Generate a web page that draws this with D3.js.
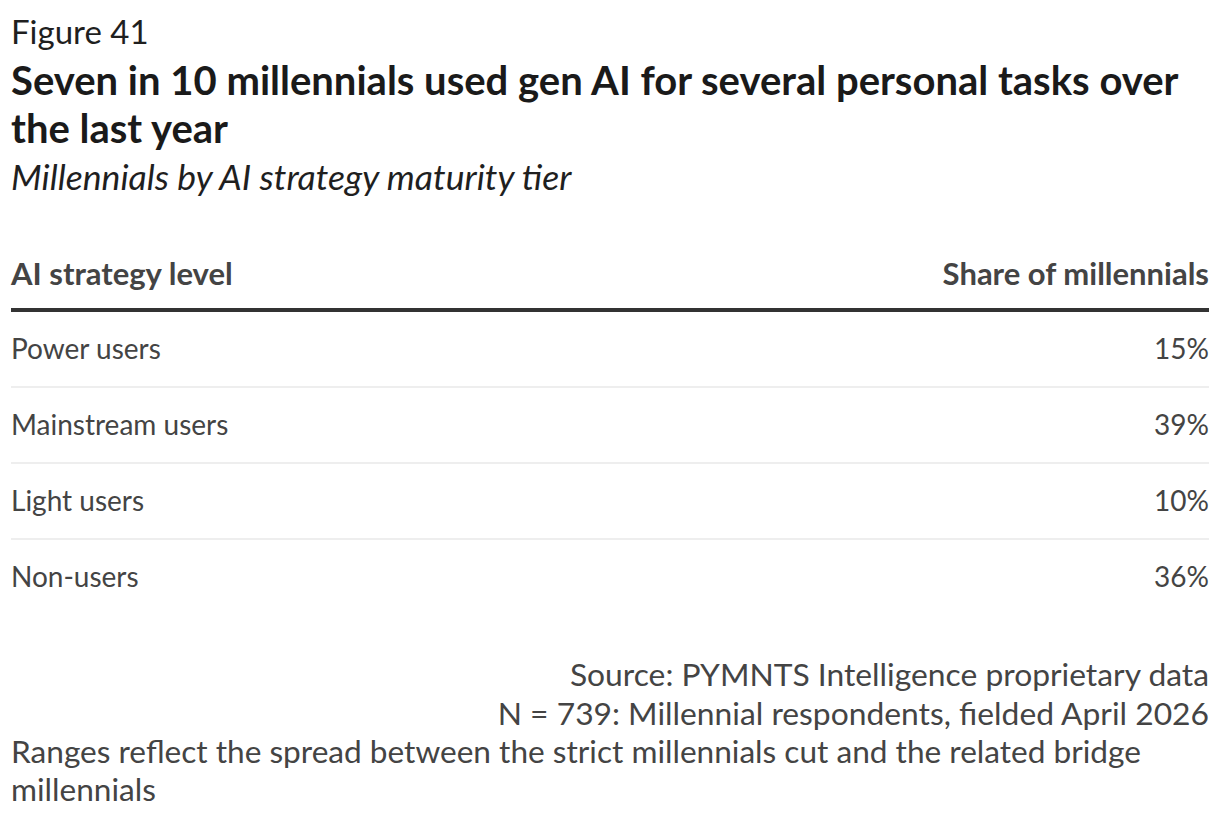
<!DOCTYPE html>
<html>
<head>
<meta charset="utf-8">
<script src="https://cdn.jsdelivr.net/npm/d3@7"></script>
<style>
  body { margin: 0; background: #fff; }
  svg { display: block; font-family: Lato, "Open Sans", sans-serif; }
</style>
</head>
<body>
<svg id="chart"></svg>
<script>
// data
const figureLabel = 'Figure 41';
const title = 'Seven in 10 millennials used gen AI for several personal tasks over the last year';
const subtitle = 'Millennials by AI strategy maturity tier';
const columns = ['AI strategy level', 'Share of millennials'];
const levels = ['Power users', 'Mainstream users', 'Light users', 'Non-users'];
const shares = [15, 39, 10, 36];
const sourceLines = ['Source: PYMNTS Intelligence proprietary data', 'N = 739: Millennial respondents, fielded April 2026'];
const note = 'Ranges reflect the spread between the strict millennials cut and the related bridge millennials';

var width = 1220;
var height = 820;
var margin = { left: 11, right: 11 };

var svg = d3.select('#chart')
  .attr('width', width)
  .attr('height', height)
  .attr('viewBox', [0, 0, width, height]);

// wrap text into lines that fit maxWidth
function wrap(textSel, str, maxWidth, lineHeight) {
  var words = str.split(' ');
  var line = [];
  var tspan = textSel.append('tspan').attr('x', textSel.attr('x')).attr('dy', 0);
  words.forEach(function(w) {
    line.push(w);
    tspan.text(line.join(' '));
    if (tspan.node().getComputedTextLength() > maxWidth && line.length > 1) {
      line.pop();
      tspan.text(line.join(' '));
      line = [w];
      tspan = textSel.append('tspan').attr('x', textSel.attr('x')).attr('dy', lineHeight).text(w);
    }
  });
}

var innerW = width - margin.left - margin.right;

///////////////////////////////////////////////////////////////
// header texts
svg.append('text')
  .attr('x', margin.left).attr('y', 44)
  .style('font-size', '33px').attr('fill', '#1f1f1f')
  .text(figureLabel);

svg.append('text')
  .attr('x', margin.left).attr('y', 95)
  .style('font-size', '40px').style('font-weight', 'bold').attr('fill', '#1a1a1a')
  .call(function(t) { wrap(t, title, 1180, 48); });

svg.append('text')
  .attr('x', margin.left).attr('y', 190)
  .style('font-size', '35.6px').style('font-style', 'italic').attr('fill', '#1f1f1f')
  .text(subtitle);

///////////////////////////////////////////////////////////////
// table
var x = d3.scaleLinear().domain([0, 1]).range([margin.left, width - margin.right]);

var y = d3.scaleBand()
  .domain(levels)
  .range([311, 311 + 76 * levels.length]);

svg.append('text')
  .attr('x', x(0)).attr('y', 285)
  .style('font-size', '31px').style('font-weight', 'bold').attr('fill', '#444')
  .text(columns[0]);

svg.append('text')
  .attr('x', x(1)).attr('y', 285)
  .attr('text-anchor', 'end')
  .style('font-size', '31px').style('font-weight', 'bold').attr('fill', '#444')
  .text(columns[1]);

svg.append('line')
  .attr('x1', x(0)).attr('x2', x(1))
  .attr('y1', 310).attr('y2', 310)
  .attr('stroke', '#333').attr('stroke-width', 4);

var rows = svg.selectAll('g.row')
  .data(levels.map((d, i) => ({ level: d, share: shares[i] })))
  .join('g')
    .attr('class', 'row')
    .attr('transform', d => 'translate(0,' + y(d.level) + ')');

rows.append('text')
  .attr('x', x(0)).attr('y', 48)
  .style('font-size', '28px').attr('fill', '#444')
  .text(d => d.level);

rows.append('text')
  .attr('x', x(1)).attr('y', 48)
  .attr('text-anchor', 'end')
  .style('font-size', '28px').attr('fill', '#444')
  .text(d => d.share + '%');

rows.filter((d, i) => i < levels.length - 1)
  .append('line')
  .attr('x1', x(0)).attr('x2', x(1))
  .attr('y1', y.bandwidth()).attr('y2', y.bandwidth())
  .attr('stroke', '#e8e8e8').attr('stroke-width', 1.5);

///////////////////////////////////////////////////////////////
// footer
svg.selectAll('text.source')
  .data(sourceLines)
  .join('text')
    .attr('class', 'source')
    .attr('x', x(1))
    .attr('y', (d, i) => 686 + i * 39)
    .attr('text-anchor', 'end')
    .style('font-size', '31.8px').attr('fill', '#444')
    .text(d => d);

svg.append('text')
  .attr('x', margin.left).attr('y', 763)
  .style('font-size', '31.6px').attr('fill', '#444')
  .call(function(t) { wrap(t, note, innerW, 38); });
</script>
</body>
</html>
